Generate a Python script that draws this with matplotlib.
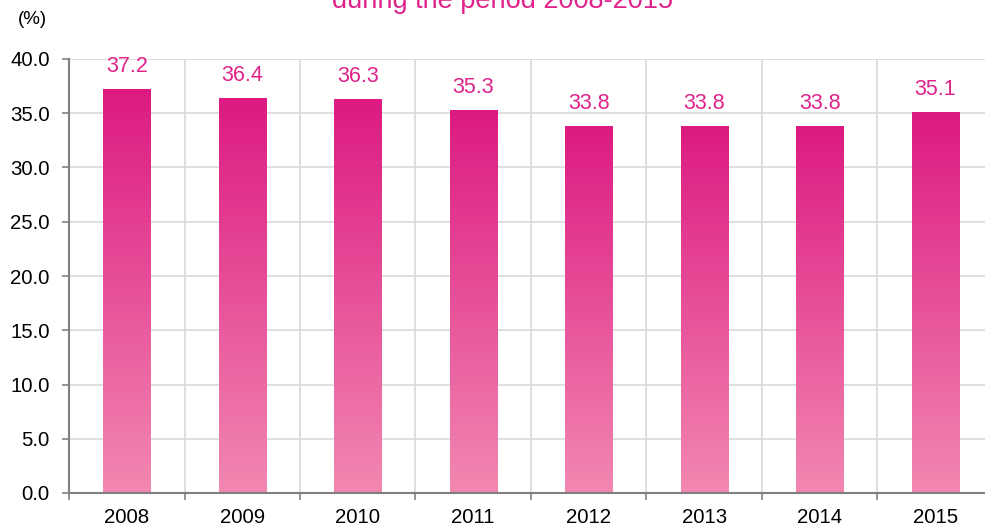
import numpy as np
import matplotlib.pyplot as plt
from matplotlib.colors import LinearSegmentedColormap

plt.rcParams['font.family'] = ['Liberation Sans', 'DejaVu Sans']

years = ['2008', '2009', '2010', '2011', '2012', '2013', '2014', '2015']
values = [37.2, 36.4, 36.3, 35.3, 33.8, 33.8, 33.8, 35.1]
y_ticks = [0, 5, 10, 15, 20, 25, 30, 35, 40]

label_color = '#e0238a'
cmap = LinearSegmentedColormap.from_list('pinks', ['#f288b1', '#dc1a82'])

fig = plt.figure(figsize=(9.85, 5.28), dpi=100)
ax = fig.add_axes([69 / 985, 35 / 528, 924 / 985, 434 / 528])

x = np.arange(len(years))
bar_w = 0.41
bars = ax.bar(x, values, width=bar_w, color='none', zorder=3)

# gradient fill, clipped to each bar
grad = np.linspace(0, 1, 256).reshape(-1, 1)
for b, v in zip(bars, values):
    x0 = b.get_x()
    img = ax.imshow(grad, cmap=cmap, aspect='auto', origin='lower',
                    extent=[x0, x0 + bar_w, 0, v], zorder=3)
    img.set_clip_path(b)

for xi, v in zip(x, values):
    ax.text(xi, v + 1.6, f'{v:.1f}', ha='center', va='baseline',
            color=label_color, fontsize=15.5)

ax.set_xlim(-0.5, len(years) - 0.5)
ax.set_ylim(0, 40)
ax.set_yticks(y_ticks)
ax.set_yticklabels([f'{t:.1f}' for t in y_ticks], fontsize=14.7)
ax.set_xticks(x)
ax.set_xticklabels(years, fontsize=14.7)
ax.tick_params(axis='x', length=0, pad=10.5)
ax.set_xticks(np.arange(-0.5, len(years)), minor=True)
ax.tick_params(axis='x', which='minor', length=5, color='#808080', width=1.2)
ax.tick_params(axis='y', length=5, color='#808080', width=1.2, pad=9)

ax.grid(True, axis='y', color='#d9d9d9', linewidth=1.2, zorder=0)
ax.grid(True, axis='x', which='minor', color='#d9d9d9', linewidth=1.2, zorder=0)
ax.set_axisbelow(True)

for s in ['top', 'right']:
    ax.spines[s].set_visible(False)
for s in ['left', 'bottom']:
    ax.spines[s].set_color('#808080')
    ax.spines[s].set_linewidth(1.5)
    ax.spines[s].set_zorder(4)

fig.text(32 / 985, 1 - 20 / 528, '(%)', ha='center', va='center', fontsize=13.5)
fig.text(503 / 985, 1 - 8 / 528, 'during the period 2008-2015', ha='center',
         va='baseline', color=label_color, fontsize=19.5)

fig.savefig('out.png', dpi=100)
